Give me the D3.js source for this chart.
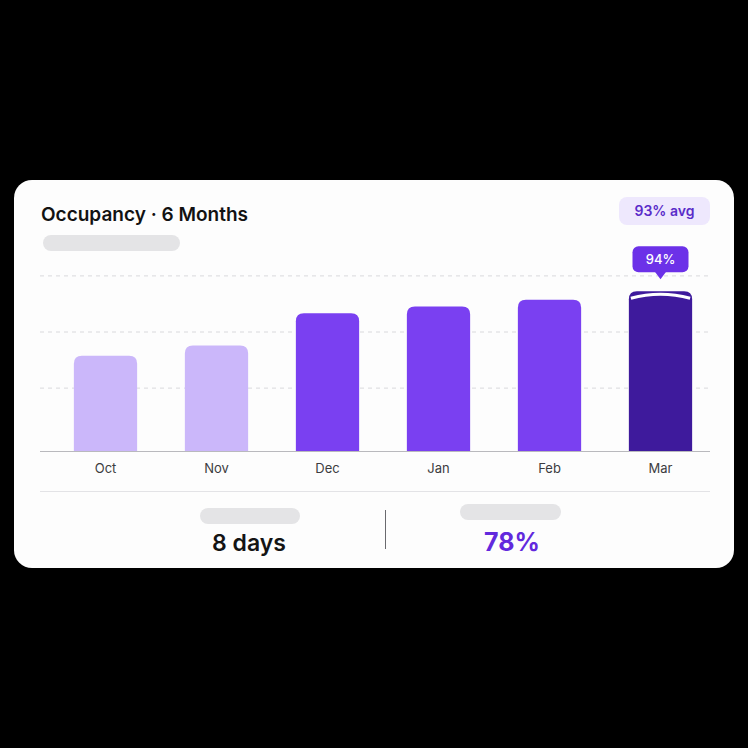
<!DOCTYPE html>
<html>
<head>
<meta charset="utf-8">
<script src="https://cdn.jsdelivr.net/npm/d3@7"></script>
<style>
  html, body { margin: 0; padding: 0; background: #000; }
  svg { display: block; font-family: Inter, "Noto Sans", sans-serif; }
</style>
</head>
<body>
<div id="wrapper"></div>
<script>
// data
const months = ["Oct", "Nov", "Dec", "Jan", "Feb", "Mar"]
const occupancy = [56, 62, 81, 85, 89, 94]
const barTone = ["light", "light", "mid", "mid", "mid", "dark"]
const gridValues = [37, 70, 103]
const title = "Occupancy · 6 Months"
const avgLabel = "93% avg"
const highlightLabel = "94%"
const statLeft = "8 days"
const statRight = "78%"

const colors = { light: "#cbb7fa", mid: "#7a40f1", dark: "#3e1a9c" }

const dimensions = {
  width: 748,
  height: 748,
  card: { x: 14, y: 180, w: 720, h: 388, r: 18 },
  plot: { left: 40, right: 710, top: 281, bottom: 451 },
}

const svg = d3.select("#wrapper")
  .append("svg")
    .attr("width", dimensions.width)
    .attr("height", dimensions.height)

svg.append("rect")
  .attr("width", dimensions.width)
  .attr("height", dimensions.height)
  .attr("fill", "#000")

const c = dimensions.card
svg.append("rect")
  .attr("x", c.x).attr("y", c.y)
  .attr("width", c.w).attr("height", c.h)
  .attr("rx", c.r)
  .attr("fill", "#fdfdfd")

// header
svg.append("text")
  .attr("x", 41).attr("y", 221)
  .attr("font-size", 19).attr("font-weight", 600)
  .attr("fill", "#121212")
  .text(title)

svg.append("rect")
  .attr("x", 43).attr("y", 235).attr("width", 137).attr("height", 16)
  .attr("rx", 8).attr("fill", "#e4e4e6")

const badge = svg.append("g").attr("transform", "translate(619,197)")
badge.append("rect")
  .attr("width", 91).attr("height", 28).attr("rx", 8)
  .attr("fill", "#eee8fd")
badge.append("text")
  .attr("x", 45.5).attr("y", 19)
  .attr("text-anchor", "middle")
  .attr("font-size", 14).attr("font-weight", 600)
  .attr("fill", "#5a2cc9")
  .text(avgLabel)

// scales
const p = dimensions.plot
const x = d3.scaleBand()
  .domain(months)
  .range([50, 716])
  .paddingInner(0.43)
  .paddingOuter(0.215)

const y = d3.scaleLinear()
  .domain([0, 100])
  .range([p.bottom, p.bottom - 170])

// grid
svg.append("g")
  .selectAll("line")
  .data(gridValues)
  .join("line")
    .attr("x1", p.left).attr("x2", p.right)
    .attr("y1", d => y(d)).attr("y2", d => y(d))
    .attr("stroke", "#d9d9dc")
    .attr("stroke-width", 1)
    .attr("stroke-dasharray", "4 4")

// bars
const barPath = (x0, w, top, bottom, r) => `M${x0},${bottom}
  V${top + r} Q${x0},${top} ${x0 + r},${top}
  H${x0 + w - r} Q${x0 + w},${top} ${x0 + w},${top + r}
  V${bottom} Z`

const data = months.map((m, i) => ({ month: m, value: occupancy[i], tone: barTone[i] }))

svg.append("g")
  .selectAll("path")
  .data(data)
  .join("path")
    .attr("d", d => barPath(x(d.month), x.bandwidth(), y(d.value), p.bottom, 8))
    .attr("fill", d => colors[d.tone])

// highlight cap on last bar
const last = data[data.length - 1]
const lx = x(last.month), lw = x.bandwidth(), ly = y(last.value)
svg.append("path")
  .attr("d", `M${lx + 2},${ly + 7} Q${lx + lw / 2},${ly - 1} ${lx + lw - 2},${ly + 7}`)
  .attr("fill", "none")
  .attr("stroke", "#ffffff")
  .attr("stroke-width", 3)

// tooltip
const tx = lx + lw / 2
const tip = svg.append("g").attr("transform", `translate(${tx},${ly - 19})`)
tip.append("rect")
  .attr("x", -28).attr("y", -26).attr("width", 56).attr("height", 26)
  .attr("rx", 6).attr("fill", "#6c31e8")
tip.append("path")
  .attr("d", "M-6,-1 L0,7 L6,-1 Z")
  .attr("fill", "#6c31e8")
tip.append("text")
  .attr("y", -8)
  .attr("text-anchor", "middle")
  .attr("font-size", 13).attr("font-weight", 500)
  .attr("fill", "#fff")
  .text(highlightLabel)

// baseline + month labels
svg.append("line")
  .attr("x1", p.left).attr("x2", p.right)
  .attr("y1", p.bottom + 0.5).attr("y2", p.bottom + 0.5)
  .attr("stroke", "#b9b9bd")

svg.append("g")
  .selectAll("text")
  .data(months)
  .join("text")
    .attr("x", d => x(d) + x.bandwidth() / 2)
    .attr("y", 473)
    .attr("text-anchor", "middle")
    .attr("font-size", 13)
    .attr("fill", "#3c3c40")
    .text(d => d)

// footer
svg.append("line")
  .attr("x1", p.left).attr("x2", p.right)
  .attr("y1", 491.5).attr("y2", 491.5)
  .attr("stroke", "#e3e3e6")

svg.append("line")
  .attr("x1", 385.5).attr("x2", 385.5)
  .attr("y1", 510).attr("y2", 549)
  .attr("stroke", "#6a6a6e")

svg.append("rect")
  .attr("x", 200).attr("y", 508).attr("width", 100).attr("height", 16)
  .attr("rx", 8).attr("fill", "#e4e4e6")
svg.append("rect")
  .attr("x", 460).attr("y", 504).attr("width", 101).attr("height", 16)
  .attr("rx", 8).attr("fill", "#e4e4e6")

svg.append("text")
  .attr("x", 249).attr("y", 551)
  .attr("text-anchor", "middle")
  .attr("font-size", 23).attr("font-weight", 600)
  .attr("fill", "#141414")
  .text(statLeft)

svg.append("text")
  .attr("x", 512).attr("y", 551)
  .attr("text-anchor", "middle")
  .attr("font-size", 25).attr("font-weight", 700)
  .attr("fill", "#6229dd")
  .text(statRight)
</script>
</body>
</html>
